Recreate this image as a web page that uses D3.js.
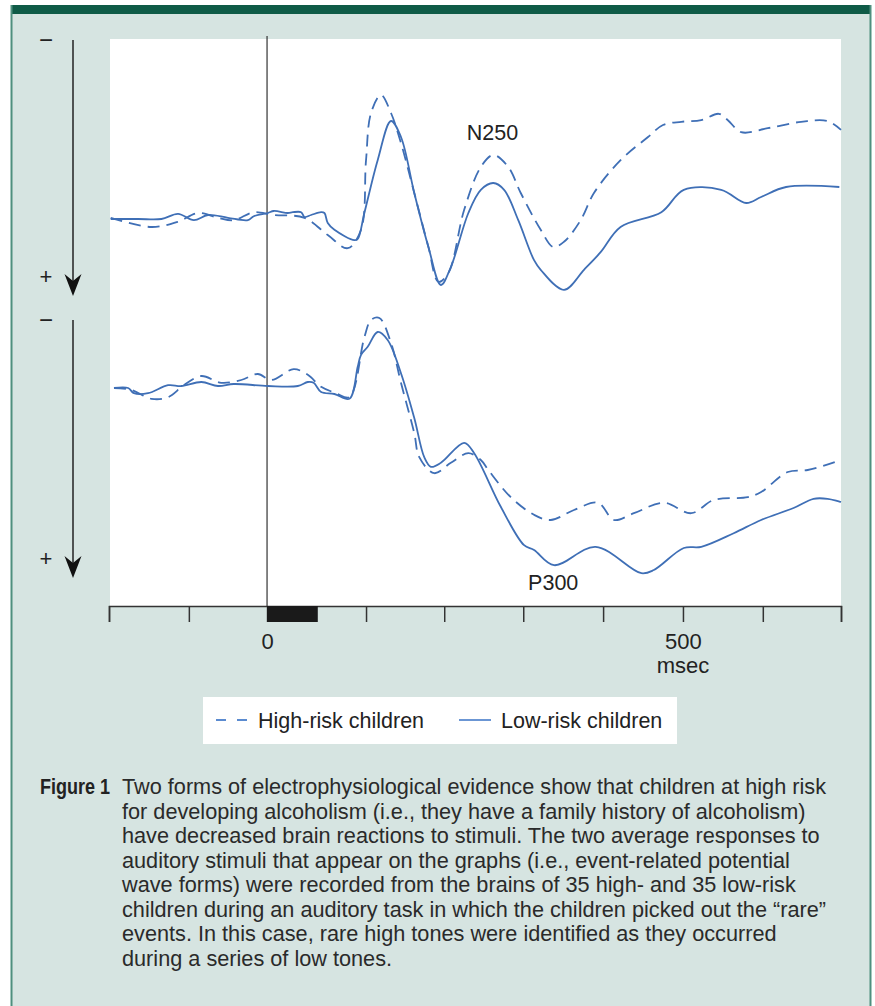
<!DOCTYPE html>
<html>
<head>
<meta charset="utf-8">
<script src="https://cdn.jsdelivr.net/npm/d3@7"></script>
<style>
    body { margin: 0; background: #ffffff; }
    svg { display: block; font-family: "Liberation Sans", Arial, Helvetica, sans-serif; }
</style>
</head>
<body>
<div id="my_dataviz"></div>
<script>
// time in msec, amplitude in microvolts (negative is up)
var topHighRisk = [[-188, 0.1], [-139, 1.25], [-107, 0.6], [-83, -0.5], [-59, 0.1], [-40, 0.4], [-16, -0.6],
    [8, -0.25], [45, 0.1], [73, 2.25], [97, 3.9], [113, 1.6], [119, -7.1], [125, -13], [137, -15.25],
    [149, -13], [161, -9.25], [177, -3], [194, 3.75], [206, 8.1], [218, 7], [237, -0.9], [257, -6.25],
    [272, -7.75], [290, -6.25], [305, -3], [329, 1.6], [344, 3.75], [357, 3.1], [377, 0.4], [393, -3],
    [425, -7.1], [458, -10], [476, -11.5], [498, -11.9], [522, -12.1], [543, -12.9], [554, -12.1],
    [570, -10.6], [602, -11.1], [642, -11.9], [674, -12], [690, -10.9]];

var topLowRisk = [[-188, 0.25], [-155, 0.25], [-127, 0.25], [-107, -0.4], [-88, 0.4], [-71, -0.25], [-47, 0.1],
    [-23, 0.4], [-16, -0.1], [1, -0.5], [8, -0.75], [25, -0.5], [31, -0.6], [41, -0.6], [45, 0],
    [53, -0.25], [65, -0.6], [69, -0.5], [73, 0.75], [81, 1.6], [105, 2.9], [109, 2.75], [117, -0.5],
    [133, -7.1], [149, -12], [161, -10], [177, -3], [194, 3.75], [209, 8.5], [221, 6.25], [242, -0.5],
    [257, -3.4], [272, -4.25], [285, -3.4], [302, 0.4], [321, 5.4], [329, 6.6], [357, 9.1], [381, 6.6],
    [401, 4.4], [425, 1.25], [474, -0.6], [501, -3.4], [546, -3.4], [576, -1.75], [594, -2.5],
    [624, -3.75], [688, -3.75]];

var bottomHighRisk = [[-184, 0.25], [-163, 0.5], [-139, 1.6], [-119, 1.4], [-100, -0.1], [-79, -1.25],
    [-55, -0.4], [-31, -0.75], [-11, -1.5], [5, -0.75], [32, -2.1], [49, -1.4], [65, 0.1], [83, 0.9],
    [99, 1.4], [117, -6.1], [125, -8.25], [135, -8.5], [149, -5.4], [161, -0.4], [177, 5.9], [183, 8.9],
    [201, 10.9], [221, 9.6], [242, 8.4], [257, 9.25], [266, 10.5], [293, 13.9], [321, 16.1], [341, 16.75],
    [369, 15.5], [398, 14.6], [417, 16.75], [441, 15.9], [477, 14.6], [510, 15.9], [537, 14.25],
    [578, 13.9], [594, 13.25], [626, 10.75], [650, 10.5], [690, 9.25]];

var bottomLowRisk = [[-184, 0.25], [-167, 0.25], [-160, 0.9], [-143, 0.9], [-119, -0.1], [-103, 0],
    [-79, -0.5], [-59, 0], [-40, -0.25], [1, 0], [37, 0], [49, -0.5], [56, -0.4], [65, 0.75], [81, 1],
    [99, 1.6], [109, -2.4], [113, -3.9], [121, -4.9], [133, -6.75], [145, -5.75], [161, -1.6], [177, 4],
    [189, 8.9], [197, 10.1], [209, 9.6], [237, 7.1], [249, 8.4], [281, 15.1], [309, 19.9], [321, 20.5],
    [345, 22.4], [395, 20.1], [450, 23.4], [465, 23], [501, 20.25], [522, 20.1], [561, 18.4],
    [594, 16.75], [633, 15.25], [657, 14.1], [674, 14.1], [690, 14.5]];

var tickValues = [-190, -94, 0, 119, 213, 308, 404, 500, 596, 690];
var tickLabels = {0: "0", 500: "500"};
var stimulus = [0, 61];
var peakLabels = [["N250", 271, -9.6, "top"], ["P300", 344, 25.5, "bottom"]];
var seriesNames = ["High-risk children", "Low-risk children"];

var captionHead = "Figure 1";
var captionLines = [
    "Two forms of electrophysiological evidence show that children at high risk",
    "for developing alcoholism (i.e., they have a family history of alcoholism)",
    "have decreased brain reactions to stimuli. The two average responses to",
    "auditory stimuli that appear on the graphs (i.e., event-related potential",
    "wave forms) were recorded from the brains of 35 high- and 35 low-risk",
    "children during an auditory task in which the children picked out the \u201crare\u201d",
    "events. In this case, rare high tones were identified as they occurred",
    "during a series of low tones."
];

var width = 875, height = 1006;
var blue = "#3f6fb6", ink = "#222222";

var svg = d3.select("#my_dataviz")
    .append("svg")
    .attr("width", width)
    .attr("height", height);

// panel background and frame
svg.append("rect").attr("x", 11).attr("y", 5).attr("width", 860).attr("height", height - 5)
    .attr("fill", "#d6e4e1");
svg.append("rect").attr("x", 11).attr("y", 5).attr("width", 860).attr("height", 9)
    .attr("fill", "#0f5b47");
svg.append("line").attr("x1", 11.5).attr("x2", 11.5).attr("y1", 5).attr("y2", height)
    .attr("stroke", "#4f8f7e").attr("stroke-width", 2);
svg.append("line").attr("x1", 870.5).attr("x2", 870.5).attr("y1", 5).attr("y2", height)
    .attr("stroke", "#4f8f7e").attr("stroke-width", 2);

// white plot area
svg.append("rect").attr("x", 110).attr("y", 39).attr("width", 731).attr("height", 567)
    .attr("fill", "#ffffff");

// scales
var x = d3.scaleLinear().domain([-190, 690]).range([109, 841]);
var yTop = d3.scaleLinear().domain([-15, 10]).range([97, 297]);
var yBottom = d3.scaleLinear().domain([-10, 25]).range([306, 586]);

// stimulus onset line
svg.append("line")
    .attr("x1", x(0)).attr("x2", x(0))
    .attr("y1", 36).attr("y2", 606)
    .attr("stroke", "#333333").attr("stroke-width", 1.2);

// X axis
var axis = svg.append("g")
    .attr("transform", "translate(0,606)")
    .call(d3.axisBottom(x)
        .tickValues(tickValues)
        .tickSize(16)
        .tickPadding(11)
        .tickFormat(function(d) { return tickLabels[d] || ""; }));
axis.select(".domain").attr("stroke", "#333333").attr("stroke-width", 1.5);
axis.selectAll(".tick line").attr("stroke", "#333333").attr("stroke-width", 1.5);
axis.selectAll("text")
    .attr("fill", ink)
    .style("font-size", "22px")
    .style("font-family", "'Liberation Sans', Arial, sans-serif");

// stimulus bar
svg.append("rect")
    .attr("x", x(stimulus[0]))
    .attr("y", 606)
    .attr("width", x(stimulus[1]) - x(stimulus[0]))
    .attr("height", 16)
    .attr("fill", "#1a1a1a");

svg.append("text")
    .attr("x", x(500)).attr("y", 673)
    .attr("text-anchor", "middle")
    .attr("fill", ink)
    .style("font-size", "22px")
    .text("msec");

// polarity arrows
function polarityArrow(top, tip) {
    var ax = 73;
    svg.append("line").attr("x1", ax).attr("x2", ax).attr("y1", top).attr("y2", tip - 10)
        .attr("stroke", "#222222").attr("stroke-width", 1.5);
    svg.append("path")
        .attr("d", "M" + ax + "," + tip + " L" + (ax - 8.5) + "," + (tip - 22) +
            " L" + ax + "," + (tip - 15) + " L" + (ax + 8.5) + "," + (tip - 22) + " Z")
        .attr("fill", "#111111");
    svg.append("text").attr("x", 46).attr("y", top + 8).attr("text-anchor", "middle")
        .attr("fill", ink).style("font-size", "24px").text("\u2212");
    svg.append("text").attr("x", 46).attr("y", tip - 12).attr("text-anchor", "middle")
        .attr("fill", ink).style("font-size", "22px").text("+");
}
polarityArrow(40, 296);
polarityArrow(320, 578);

// wave forms
function drawWave(data, yScale, dashed) {
    var line = d3.line()
        .x(function(d) { return x(d[0]); })
        .y(function(d) { return yScale(d[1]); })
        .curve(d3.curveCatmullRom.alpha(0.5));
    svg.append("path")
        .datum(data)
        .attr("d", line)
        .attr("fill", "none")
        .attr("stroke", blue)
        .attr("stroke-width", 1.8)
        .attr("stroke-linejoin", "round")
        .attr("stroke-dasharray", dashed ? "12,7" : null);
}
drawWave(topHighRisk, yTop, true);
drawWave(topLowRisk, yTop, false);
drawWave(bottomHighRisk, yBottom, true);
drawWave(bottomLowRisk, yBottom, false);

// component labels
peakLabels.forEach(function(p) {
    var yScale = p[3] == "top" ? yTop : yBottom;
    svg.append("text")
        .attr("x", x(p[1]))
        .attr("y", yScale(p[2]))
        .attr("text-anchor", "middle")
        .attr("fill", ink)
        .style("font-size", "21.5px")
        .text(p[0]);
});

// legend
svg.append("rect").attr("x", 203).attr("y", 697).attr("width", 474).attr("height", 47)
    .attr("fill", "#ffffff");
svg.append("line").attr("x1", 216).attr("x2", 248).attr("y1", 720).attr("y2", 720)
    .attr("stroke", "#5b8bd0").attr("stroke-width", 1.8).attr("stroke-dasharray", "10,11");
svg.append("text").attr("x", 258).attr("y", 728).attr("fill", ink)
    .style("font-size", "21.5px").text(seriesNames[0]);
svg.append("line").attr("x1", 459).attr("x2", 491).attr("y1", 720).attr("y2", 720)
    .attr("stroke", "#5b8bd0").attr("stroke-width", 1.8);
svg.append("text").attr("x", 501).attr("y", 728).attr("fill", ink)
    .style("font-size", "21.5px").text(seriesNames[1]);

// caption
svg.append("text").attr("x", 40).attr("y", 794).attr("fill", ink)
    .attr("textLength", 70).attr("lengthAdjust", "spacingAndGlyphs")
    .style("font-size", "21.7px").style("font-weight", "bold").text(captionHead);
svg.selectAll(".caption")
    .data(captionLines)
    .enter()
    .append("text")
    .attr("class", "caption")
    .attr("x", 122)
    .attr("y", function(d, i) { return 794 + i * 24.5; })
    .attr("fill", "#2a2a2a")
    .style("font-size", "21.7px")
    .text(function(d) { return d; });
</script>
</body>
</html>
